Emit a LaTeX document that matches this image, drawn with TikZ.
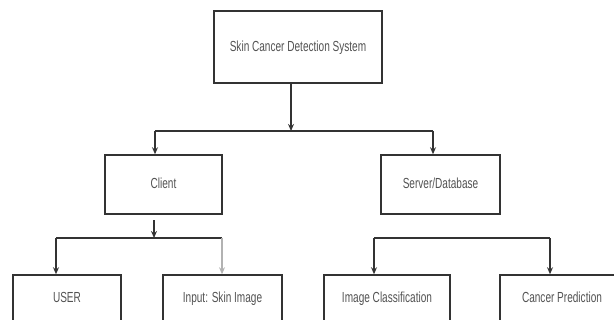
\documentclass[tikz,border=0pt]{standalone}
\usepackage{fontspec}
\newfontfamily\boxfont[FakeStretch=0.69]{Liberation Sans}
\usetikzlibrary{positioning, arrows.meta}
\tikzset{
x=0.02cm, y=-0.02cm, % one unit is one pixel of the reference, y downwards
>={Stealth[length=4pt,width=3.4pt]}, % small filled arrow heads
line/.style={draw=black!80, line width=0.85pt}, % all connectors
block/.style={line, rectangle, inner sep=0pt, text=black!68, text height=1.6ex, text depth=0.45ex, font=\boxfont\fontsize{8.3pt}{10pt}\selectfont}, % every box
faint/.style={draw=black!30, line width=0.6pt}, % the pale connector
}
\begin{document}
\begin{tikzpicture}
    \clip (0,0) rectangle (614,320);
    \node[block, minimum width=168*0.02cm, minimum height=72*0.02cm] (sys) at (298,47) {Skin Cancer Detection System};
    \node[block, minimum width=117*0.02cm, minimum height=59*0.02cm] (client) at (163.5,184.5) {Client};
    \node[block, minimum width=119*0.02cm, minimum height=59*0.02cm] (server) at (440.5,184.5) {Server/Database};
    \node[block, minimum width=108*0.02cm, minimum height=47*0.02cm] (user) at (67,298.5) {USER};
    \node[block, minimum width=119*0.02cm, minimum height=47*0.02cm] (input) at (222.5,298.5) {Input: Skin Image};
    \node[block, minimum width=126*0.02cm, minimum height=47*0.02cm] (imgcls) at (387,298.5) {Image Classification};
    \node[block, minimum width=124*0.02cm, minimum height=47*0.02cm] (cancer) at (562,298.5) {Cancer Prediction};
    % junctions of the branching lines
    \coordinate (top) at (291,131);
    \coordinate (topl) at (155,131);
    \coordinate (topr) at (433,131);
    \coordinate (cli) at (154,238);
    \coordinate (clil) at (56,238);
    \coordinate (clir) at (222,238);
    \coordinate (srvl) at (374,238);
    \coordinate (srvr) at (550,238);
    \draw[line, ->] (top |- sys.south) -- (top);
    \draw[line] (topl) -- (topr);
    \draw[line, ->] (topl) -- (topl |- client.north);
    \draw[line, ->] (topr) -- (topr |- server.north);
    \draw[line, ->, shorten <=3pt] (cli |- client.south) -- (cli);
    \draw[line] (clil) -- (clir);
    \draw[line, ->] (clil) -- (clil |- user.north);
    \draw[faint, ->] (clir) -- (clir |- input.north);
    \draw[line] (srvl) -- (srvr);
    \draw[line, ->] (srvl) -- (srvl |- imgcls.north);
    \draw[line, ->] (srvr) -- (srvr |- cancer.north);
\end{tikzpicture}
\end{document}
